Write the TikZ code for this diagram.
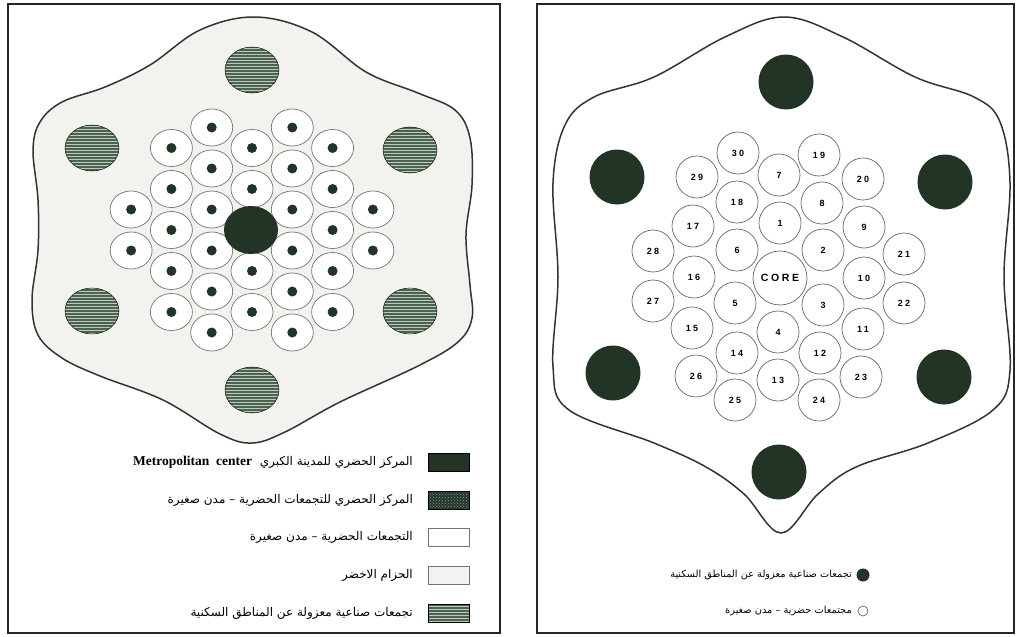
\documentclass[tikz,border=0pt]{standalone}
\usepackage{fontspec}
\setmainfont{Liberation Serif}
\newfontfamily\arabicfont[Script=Arabic]{DejaVu Sans}
\newfontfamily\numfont[LetterSpace=25]{Liberation Sans}
\TeXXeTstate=1
\usetikzlibrary{patterns}
\definecolor{coregreen}{RGB}{33,52,38}
\definecolor{hatchgreen}{RGB}{74,100,80}
\definecolor{hatchlight}{RGB}{190,202,192}
\definecolor{beltgray}{RGB}{242,242,239}

\begin{document}
\begin{tikzpicture}[x=1pt,y=-1pt,
  frame/.style={draw=black!85,line width=2.2pt},
  belt/.style={draw=black!80,line width=1.5pt},
  town/.style={draw=black!55,line width=0.7pt,fill=white},
  beltswatch/.style={town,fill=beltgray},
  hub/.style={fill=coregreen},
  industry/.style={preaction={fill=hatchgreen},pattern=horizontal lines,pattern color=hatchlight},
  towncenter/.style={preaction={fill=coregreen},pattern=crosshatch dots,pattern color=hatchgreen!60!white},
  numlabel/.style={circle,draw=black!60,line width=0.7pt,fill=white,minimum size=42,inner sep=0pt,
    font=\numfont\bfseries\fontsize{9}{9}\selectfont},
  legtext/.style={anchor=east,inner sep=0pt,font=\arabicfont\fontsize{12}{13}\selectfont}]
  \useasboundingbox (0,0) rectangle (1020,637);
  \draw[frame] (8,4) rectangle (500,633);
  \draw[frame] (537,4) rectangle (1014,633);

  \draw[belt,fill=beltgray] plot[smooth cycle,tension=0.6] coordinates {
    (255,17) (312,32) (366,72) (418,93) (455,110) (470,138) (472,185) (466,235)
    (470,285) (472,318) (458,342) (418,366) (340,402) (285,432) (252,443) (220,434)
    (163,400) (100,376) (62,358) (38,335) (32,300) (38,250) (38,200) (33,150)
    (40,122) (62,102) (105,87) (150,65) (200,30)};
  \foreach \x/\y in {252/70, 92/148, 410/150, 92/311, 410/311, 252/390}
    \draw[industry] (\x,\y) ellipse [x radius=27,y radius=23];
  \foreach \c/\rows in {-3/{-0.5,0.5}, -2/{-2,-1,0,1,2}, -1/{-2.5,-1.5,-0.5,0.5,1.5,2.5},
      0/{-2,-1,1,2}, 1/{-2.5,-1.5,-0.5,0.5,1.5,2.5}, 2/{-2,-1,0,1,2}, 3/{-0.5,0.5}}
    \foreach \r in \rows {
      \draw[town] ({252+40.3*\c},{230+41*\r}) ellipse [x radius=21,y radius=18.5];
      \fill[hub] ({252+40.3*\c},{230+41*\r}) circle [radius=5];
    }
  \fill[hub] (251,230) ellipse [x radius=27,y radius=24];

  \foreach \y/\sw/\txt in
    {462/hub/{\beginR المركز الحضري للمدينة الكبري\ \ \beginL{\rmfamily\bfseries\fontsize{13.5}{13.5}\selectfont Metropolitan\ \ center}\endL\endR},
     500/towncenter/{\beginR المركز الحضري للتجمعات الحضرية – مدن صغيرة\endR},
     537/town/{\beginR التجمعات الحضرية – مدن صغيرة\endR},
     575/beltswatch/{\beginR الحزام الاخضر\endR},
     613/industry/{\beginR تجمعات صناعية معزولة عن المناطق السكنية\endR}} {
    \draw[\sw] (428,\y-9) rectangle (469,\y+9);
    \node[legtext] (leg\y) at (413,\y) {\txt};
  }

  \draw[belt,fill=white] plot[smooth cycle,tension=0.6] coordinates {
    (784,17) (843,37) (915,77) (974,97) (1000,122) (1010,183) (1004,277) (1010,370)
    (993,410) (928,443) (856,467) (818,494) (781,533) (744,494)
    (706,467) (654,443) (569,410) (553,367) (558,277) (553,183) (565,125) (594,97)
    (654,77) (725,37)};
  \foreach \x/\y in {786/82, 617/177, 945/182, 613/373, 944/377, 779/472}
    \fill[hub] (\x,\y) circle [radius=27.5];
  \foreach \x/\y/\l in
    {738/153/30, 819/155/19, 697/177/29, 779/175/7, 863/179/20, 737/202/18,
     822/203/8, 693/226/17, 780/223/1, 864/227/9, 653/251/28, 737/250/6,
     823/250/2, 904/254/21, 694/277/16, 864/278/10, 653/301/27, 735/303/5,
     823/305/3, 904/303/22, 692/328/15, 778/332/4, 863/329/11, 737/353/14,
     820/353/12, 696/376/26, 778/380/13, 861/377/23, 735/400/25, 819/400/24} {
    \node[numlabel] (n\l) at (\x,\y) {\l};
  }
  \node[numlabel,minimum size=54,font=\numfont\bfseries\fontsize{10.5}{10.5}\selectfont] (core) at (780,278) {CORE};

  \fill[hub] (863,575) circle [radius=6.5];
  \node[legtext,font=\arabicfont\fontsize{9.8}{11}\selectfont] (legind) at (852,575)
    {\beginR تجمعات صناعية معزولة عن المناطق السكنية\endR};
  \draw[black!60,line width=0.7pt] (863,611) circle [radius=5];
  \node[legtext,font=\arabicfont\fontsize{9.8}{11}\selectfont] (legtown) at (852,611)
    {\beginR مجتمعات حضرية – مدن صغيرة\endR};
\end{tikzpicture}
\end{document}
